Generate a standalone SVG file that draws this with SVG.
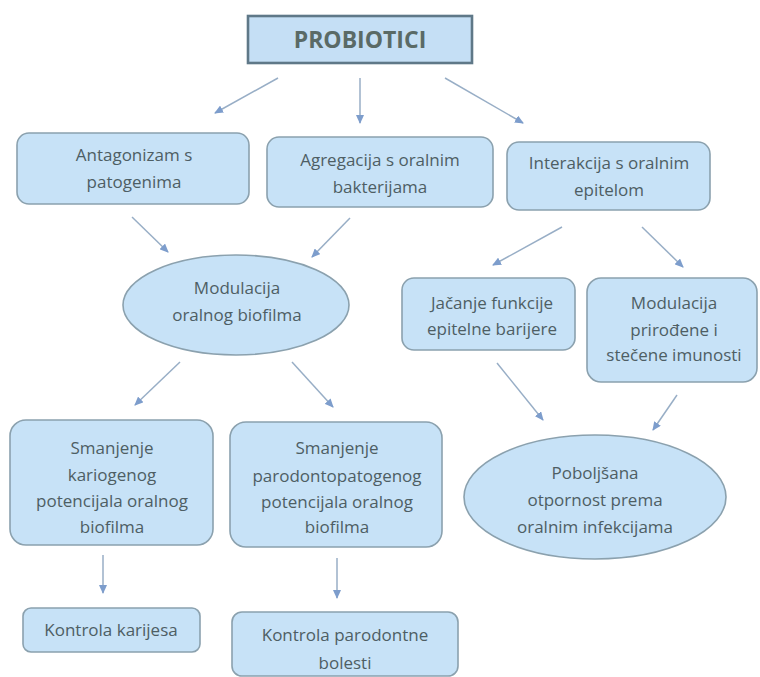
<svg xmlns="http://www.w3.org/2000/svg" width="760" height="677" viewBox="0 0 760 677">
<defs>
<marker id="ah" markerWidth="9" markerHeight="8" refX="8" refY="4" orient="auto" markerUnits="userSpaceOnUse">
<path d="M0,0 L9,4 L0,8 Z" fill="#7d9dcc"/>
</marker>
</defs>
<style>
.box{fill:#c7e2f7;stroke:#8ba1ae;stroke-width:1.6}
.title{fill:#c5dff5;stroke:#5f7888;stroke-width:2.6}
.t{font-family:"Open Sans","Noto Sans",sans-serif;font-size:17px;fill:#4e5e64;text-anchor:middle}
.tt{font-family:"Open Sans","Noto Sans",sans-serif;font-size:23px;font-weight:bold;fill:#5a6a66;text-anchor:middle}
.c line{stroke:#98aec6;stroke-width:1.5;marker-end:url(#ah)}
</style>
<rect width="760" height="677" fill="#ffffff"/>
<g id="n-probiotici">
<rect class="title" x="248" y="16" width="224" height="47"/>
<text class="tt" x="360" y="48">PROBIOTICI</text>
</g>
<g id="n-antagonizam">
<rect class="box" x="17" y="133" width="232" height="71" rx="12"/>
<text class="t" x="134" y="161">Antagonizam s</text>
<text class="t" x="134" y="188">patogenima</text>
</g>
<g id="n-agregacija">
<rect class="box" x="267" y="137" width="226" height="70" rx="12"/>
<text class="t" x="380" y="166">Agregacija s oralnim</text>
<text class="t" x="380" y="193">bakterijama</text>
</g>
<g id="n-interakcija">
<rect class="box" x="507" y="142" width="203" height="68" rx="12"/>
<text class="t" x="609" y="169">Interakcija s oralnim</text>
<text class="t" x="609" y="196">epitelom</text>
</g>
<g id="n-modulacija-biofilma">
<ellipse class="box" cx="236" cy="305" rx="113" ry="50"/>
<text class="t" x="237" y="294">Modulacija</text>
<text class="t" x="237" y="321">oralnog biofilma</text>
</g>
<g id="n-jacanje">
<rect class="box" x="402" y="278" width="173" height="72" rx="12"/>
<text class="t" x="492" y="309">Jačanje funkcije</text>
<text class="t" x="492" y="335">epitelne barijere</text>
</g>
<g id="n-modulacija-imunosti">
<rect class="box" x="587" y="278" width="170" height="104" rx="14"/>
<text class="t" x="674" y="309">Modulacija</text>
<text class="t" x="674" y="336">prirođene i</text>
<text class="t" x="674" y="361">stečene imunosti</text>
</g>
<g id="n-poboljsana">
<ellipse class="box" cx="595" cy="497" rx="131" ry="62"/>
<text class="t" x="595" y="479">Poboljšana</text>
<text class="t" x="595" y="506">otpornost prema</text>
<text class="t" x="595" y="533">oralnim infekcijama</text>
</g>
<g id="n-kariogenog">
<rect class="box" x="10" y="420" width="203" height="125" rx="16"/>
<text class="t" x="112" y="454">Smanjenje</text>
<text class="t" x="112" y="481">kariogenog</text>
<text class="t" x="112" y="507">potencijala oralnog</text>
<text class="t" x="112" y="533">biofilma</text>
</g>
<g id="n-parodonto">
<rect class="box" x="230" y="422" width="212" height="125" rx="16"/>
<text class="t" x="337" y="454">Smanjenje</text>
<text class="t" x="337" y="482">parodontopatogenog</text>
<text class="t" x="337" y="508">potencijala oralnog</text>
<text class="t" x="337" y="533">biofilma</text>
</g>
<g id="n-kontrola-karijesa">
<rect class="box" x="23" y="608" width="177" height="44" rx="8"/>
<text class="t" x="111" y="636">Kontrola karijesa</text>
</g>
<g id="n-kontrola-parodontne">
<rect class="box" x="232" y="612" width="226" height="64" rx="10"/>
<text class="t" x="345" y="641">Kontrola parodontne</text>
<text class="t" x="345" y="669">bolesti</text>
</g>
<g id="connectors" class="c">
<line x1="278" y1="78" x2="215" y2="113"/>
<line x1="360" y1="78" x2="360" y2="123"/>
<line x1="445" y1="78" x2="523" y2="123"/>
<line x1="132" y1="217" x2="168" y2="252"/>
<line x1="350" y1="218" x2="312" y2="257"/>
<line x1="562" y1="227" x2="493" y2="265"/>
<line x1="642" y1="227" x2="683" y2="267"/>
<line x1="180" y1="362" x2="135" y2="405"/>
<line x1="292" y1="362" x2="333" y2="407"/>
<line x1="497" y1="363" x2="543" y2="420"/>
<line x1="677" y1="395" x2="653" y2="430"/>
<line x1="103" y1="555" x2="103" y2="593"/>
<line x1="337" y1="558" x2="337" y2="598"/>
</g>
</svg>
